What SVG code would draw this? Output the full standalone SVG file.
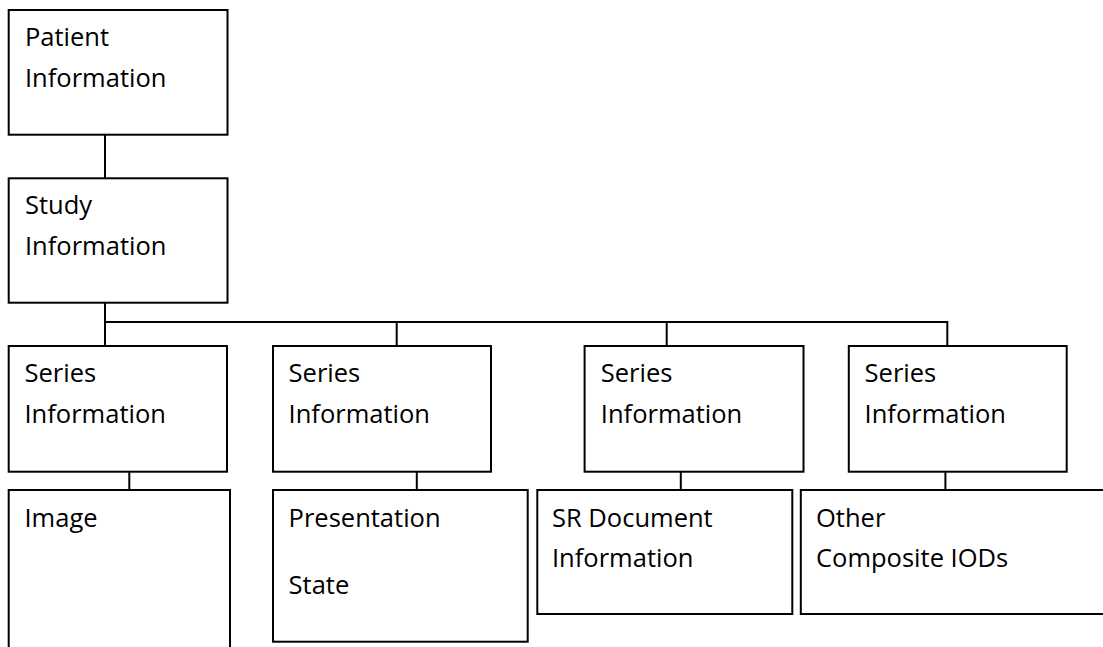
<svg xmlns="http://www.w3.org/2000/svg" width="1103" height="647" viewBox="0 0 1103 647">
  <style>
    .box { fill: #ffffff; stroke: #000000; stroke-width: 2; }
    .lbl { font-family: "Open Sans", "Liberation Sans", sans-serif; font-size: 25.5px; fill: #000000; }
    .wire { fill: none; stroke: #000000; stroke-width: 2; }
  </style>
  <rect width="1103" height="647" fill="#ffffff"/>

  <!-- tree connectors -->
  <g id="connectors">
    <path class="wire" d="M105 130 V178"/>
    <path class="wire" d="M105 298 V346"/>
    <path class="wire" d="M105 322 H947.3 V356"/>
    <path class="wire" d="M396.7 322 V346"/>
    <path class="wire" d="M666.7 322 V346"/>
    <path class="wire" d="M129.3 466.7 V490"/>
    <path class="wire" d="M416.8 466.7 V493"/>
    <path class="wire" d="M680.8 466.7 V494"/>
    <path class="wire" d="M945.4 466.7 V490"/>
  </g>

  <g id="patient">
    <rect class="box" x="8.7" y="10" width="218.8" height="124.7"/>
    <text class="lbl" x="25" y="46">Patient</text>
    <text class="lbl" x="25" y="87">Information</text>
  </g>

  <g id="study">
    <rect class="box" x="8.7" y="178.3" width="218.8" height="124.4"/>
    <text class="lbl" x="25" y="214">Study</text>
    <text class="lbl" x="25" y="255">Information</text>
  </g>

  <g id="series-1">
    <rect class="box" x="8.7" y="346" width="218.3" height="125.7"/>
    <text class="lbl" x="24.5" y="382">Series</text>
    <text class="lbl" x="24.5" y="423">Information</text>
  </g>

  <g id="series-2">
    <rect class="box" x="273" y="346" width="218" height="125.7"/>
    <text class="lbl" x="288.6" y="382">Series</text>
    <text class="lbl" x="288.6" y="423">Information</text>
  </g>

  <g id="series-3">
    <rect class="box" x="584.6" y="346" width="218.9" height="125.7"/>
    <text class="lbl" x="600.8" y="382">Series</text>
    <text class="lbl" x="600.8" y="423">Information</text>
  </g>

  <g id="series-4">
    <rect class="box" x="848.8" y="346" width="217.9" height="125.7"/>
    <text class="lbl" x="864.6" y="382">Series</text>
    <text class="lbl" x="864.6" y="423">Information</text>
  </g>

  <g id="image">
    <rect class="box" x="8.7" y="490" width="221.3" height="180"/>
    <text class="lbl" x="24.5" y="527">Image</text>
  </g>

  <g id="presentation-state">
    <rect class="box" x="273" y="490" width="254.7" height="151.7"/>
    <text class="lbl" x="288.6" y="527">Presentation</text>
    <text class="lbl" x="288.6" y="594">State</text>
  </g>

  <g id="sr-document">
    <rect class="box" x="537.3" y="490" width="255" height="124"/>
    <text class="lbl" x="552" y="527">SR Document</text>
    <text class="lbl" x="552" y="567">Information</text>
  </g>

  <g id="other-iods">
    <rect class="box" x="800.8" y="490" width="320" height="124"/>
    <text class="lbl" x="816" y="527">Other</text>
    <text class="lbl" x="816" y="567">Composite IODs</text>
  </g>
</svg>
